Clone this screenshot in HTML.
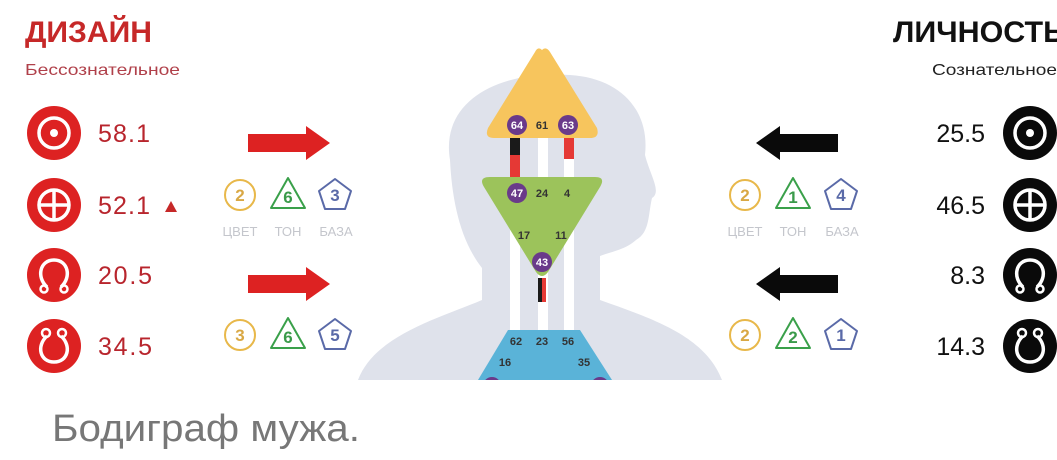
<!DOCTYPE html>
<html><head><meta charset="utf-8"><style>
html,body{margin:0;padding:0;background:#fff;overflow:hidden;}
svg{display:block;font-family:"Liberation Sans",sans-serif;}
</style></head><body>
<svg width="1057" height="460" viewBox="0 0 1057 460" xmlns="http://www.w3.org/2000/svg">
<defs>
<clipPath id="img"><rect x="0" y="0" width="1057" height="380"/></clipPath>
<g id="sun"><circle r="15" fill="none" stroke="#fff" stroke-width="3.5"/><circle r="4" fill="#fff"/></g>
<g id="earth"><circle r="15" fill="none" stroke="#fff" stroke-width="3.5"/><path d="M-15 0H15M0 -15V15" stroke="#fff" stroke-width="3.5"/></g>
<g id="nn"><path d="M-7 12 C-18 2 -14 -15 0 -15 C14 -15 18 2 7 12" fill="none" stroke="#fff" stroke-width="3.5"/><circle cx="-10" cy="14" r="3.5" fill="none" stroke="#fff" stroke-width="2.5"/><circle cx="10" cy="14" r="3.5" fill="none" stroke="#fff" stroke-width="2.5"/></g>
<g id="sn"><path d="M-7 -10 C-18 0 -14 16 0 16 C14 16 18 0 7 -10" fill="none" stroke="#fff" stroke-width="3.5"/><circle cx="-8" cy="-13" r="4" fill="none" stroke="#fff" stroke-width="2.5"/><circle cx="8" cy="-13" r="4" fill="none" stroke="#fff" stroke-width="2.5"/></g>
</defs>
<g clip-path="url(#img)">
<!-- silhouette -->
<path d="M450 160 C440 100 500 70 570 75 C620 78 650 110 645 155 C650 175 662 192 652 198 C648 215 650 232 636 240 C625 250 610 252 600 256 L600 300 C650 318 705 335 722 380 L358 380 C375 335 440 318 482 300 L482 268 C460 240 452 200 450 160Z" fill="#dfe2eb"/>
<!-- channels -->
<rect x="510" y="135" width="10" height="45" fill="#fff"/>
<rect x="538" y="135" width="10" height="45" fill="#fff"/>
<rect x="564" y="135" width="10" height="45" fill="#fff"/>
<rect x="510" y="137" width="10" height="18" fill="#1a1a1a"/>
<rect x="510" y="155" width="10" height="24" fill="#e53935"/>
<rect x="564" y="137" width="10" height="22" fill="#e53935"/>
<rect x="510" y="230" width="10" height="102" fill="#fff"/>
<rect x="538" y="270" width="10" height="62" fill="#fff"/>
<rect x="564" y="230" width="10" height="102" fill="#fff"/>
<rect x="538" y="278" width="8" height="24" fill="#e53935"/>
<rect x="538" y="278" width="4" height="24" fill="#1a1a1a"/>
<path d="M542 50 Q546 46 550 52 L597 128 Q600 138 590 138 L494 138 Q484 138 488 128 L535 52 Q538 46 542 50Z" fill="#f7c55d"/>
<path d="M490 177 L595 177 Q606 177 600 187 L548 272 Q542 280 536 272 L484 187 Q478 177 490 177Z" fill="#9cc35b"/>
<path d="M508 330 L580 330 L612 380 L478 380Z" fill="#5ab3d8"/>
<circle cx="492" cy="386" r="9" fill="#6a3a8a"/><circle cx="600" cy="386" r="9" fill="#6a3a8a"/>
</g>
<g font-size="11" font-weight="bold" text-anchor="middle" fill="#333">
<circle cx="517" cy="125" r="10" fill="#6a3a8a"/><text x="517" y="129" fill="#fff">64</text>
<text x="542" y="129">61</text>
<circle cx="568" cy="125" r="10" fill="#6a3a8a"/><text x="568" y="129" fill="#fff">63</text>
<circle cx="517" cy="193" r="10" fill="#6a3a8a"/><text x="517" y="197" fill="#fff">47</text>
<text x="542" y="197">24</text><text x="567" y="197">4</text>
<text x="524" y="239">17</text><text x="561" y="239">11</text>
<circle cx="542" cy="262" r="10" fill="#6a3a8a"/><text x="542" y="266" fill="#fff">43</text>
<text x="516" y="345">62</text><text x="542" y="345">23</text><text x="568" y="345">56</text>
<text x="505" y="366">16</text><text x="584" y="366">35</text>
</g>
<!-- left -->
<text x="25" y="42" font-size="30" font-weight="bold" fill="#c62828" textLength="127" lengthAdjust="spacingAndGlyphs">ДИЗАЙН</text>
<text x="25" y="75" font-size="16" fill="#b0404a" textLength="155" lengthAdjust="spacingAndGlyphs">Бессознательное</text>
<g fill="#dd2222">
<circle cx="54" cy="133" r="27"/><circle cx="54" cy="205" r="27"/><circle cx="54" cy="275" r="27"/><circle cx="54" cy="346" r="27"/>
</g>
<use href="#sun" x="54" y="133"/><use href="#earth" x="54" y="205"/><use href="#nn" x="54" y="275"/><use href="#sn" x="54" y="346"/>
<g font-size="25" fill="#b8252d">
<text x="98" y="142" textLength="52">58.1</text><text x="98" y="214" textLength="52">52.1</text><text x="98" y="284" textLength="54">20.5</text><text x="98" y="355" textLength="54">34.5</text>
</g>
<path d="M165 212 L171 201 L177 212Z" fill="#c62828"/>
<path d="M248 134 H306 V126 L330 143 L306 160 V152 H248Z" fill="#dd2222"/>
<path d="M248 275 H306 V267 L330 284 L306 301 V293 H248Z" fill="#dd2222"/>
<!-- right -->
<text x="893" y="42" font-size="30" font-weight="bold" fill="#111" textLength="172" lengthAdjust="spacingAndGlyphs">ЛИЧНОСТЬ</text>
<text x="932" y="75" font-size="16" fill="#222" textLength="125" lengthAdjust="spacingAndGlyphs">Сознательное</text>
<g fill="#0a0a0a">
<circle cx="1030" cy="133" r="27"/><circle cx="1030" cy="205" r="27"/><circle cx="1030" cy="275" r="27"/><circle cx="1030" cy="346" r="27"/>
</g>
<use href="#sun" x="1030" y="133"/><use href="#earth" x="1030" y="205"/><use href="#nn" x="1030" y="275"/><use href="#sn" x="1030" y="346"/>
<g font-size="25" fill="#111" text-anchor="end">
<text x="985" y="142">25.5</text><text x="985" y="214">46.5</text><text x="985" y="284">8.3</text><text x="985" y="355">14.3</text>
</g>
<path d="M838 134 H780 V126 L756 143 L780 160 V152 H838Z" fill="#0a0a0a"/>
<path d="M838 275 H780 V267 L756 284 L780 301 V293 H838Z" fill="#0a0a0a"/>
<!-- small icons -->
<g font-size="17" font-weight="bold" text-anchor="middle" stroke-width="2" fill="none">
<g transform="translate(240,195)"><circle r="15" stroke="#e8b84a"/><text y="6" fill="#d9a844" stroke="none">2</text></g>
<g transform="translate(288,195)"><path d="M0 -17 L17 13 L-17 13Z" stroke="#3aa04a" stroke-linejoin="round"/><text y="8" fill="#3a9a4a" stroke="none">6</text></g>
<g transform="translate(335,195)"><path d="M0 -16 L16 -4 L10 14 L-10 14 L-16 -4Z" stroke="#5a6aa8" stroke-linejoin="round"/><text y="6" fill="#5a6aa8" stroke="none">3</text></g>
<g transform="translate(240,335)"><circle r="15" stroke="#e8b84a"/><text y="6" fill="#d9a844" stroke="none">3</text></g>
<g transform="translate(288,335)"><path d="M0 -17 L17 13 L-17 13Z" stroke="#3aa04a" stroke-linejoin="round"/><text y="8" fill="#3a9a4a" stroke="none">6</text></g>
<g transform="translate(335,335)"><path d="M0 -16 L16 -4 L10 14 L-10 14 L-16 -4Z" stroke="#5a6aa8" stroke-linejoin="round"/><text y="6" fill="#5a6aa8" stroke="none">5</text></g>
<g transform="translate(745,195)"><circle r="15" stroke="#e8b84a"/><text y="6" fill="#d9a844" stroke="none">2</text></g>
<g transform="translate(793,195)"><path d="M0 -17 L17 13 L-17 13Z" stroke="#3aa04a" stroke-linejoin="round"/><text y="8" fill="#3a9a4a" stroke="none">1</text></g>
<g transform="translate(841,195)"><path d="M0 -16 L16 -4 L10 14 L-10 14 L-16 -4Z" stroke="#5a6aa8" stroke-linejoin="round"/><text y="6" fill="#5a6aa8" stroke="none">4</text></g>
<g transform="translate(745,335)"><circle r="15" stroke="#e8b84a"/><text y="6" fill="#d9a844" stroke="none">2</text></g>
<g transform="translate(793,335)"><path d="M0 -17 L17 13 L-17 13Z" stroke="#3aa04a" stroke-linejoin="round"/><text y="8" fill="#3a9a4a" stroke="none">2</text></g>
<g transform="translate(841,335)"><path d="M0 -16 L16 -4 L10 14 L-10 14 L-16 -4Z" stroke="#5a6aa8" stroke-linejoin="round"/><text y="6" fill="#5a6aa8" stroke="none">1</text></g>
</g>
<g font-size="13" fill="#c4c6cc" text-anchor="middle">
<text x="240" y="236">ЦВЕТ</text><text x="288" y="236">ТОН</text><text x="336" y="236">БАЗА</text>
<text x="745" y="236">ЦВЕТ</text><text x="793" y="236">ТОН</text><text x="842" y="236">БАЗА</text>
</g>
<text x="52" y="441" font-size="38" fill="#777" textLength="308" lengthAdjust="spacingAndGlyphs">Бодиграф мужа.</text>
</svg>
</body></html>
